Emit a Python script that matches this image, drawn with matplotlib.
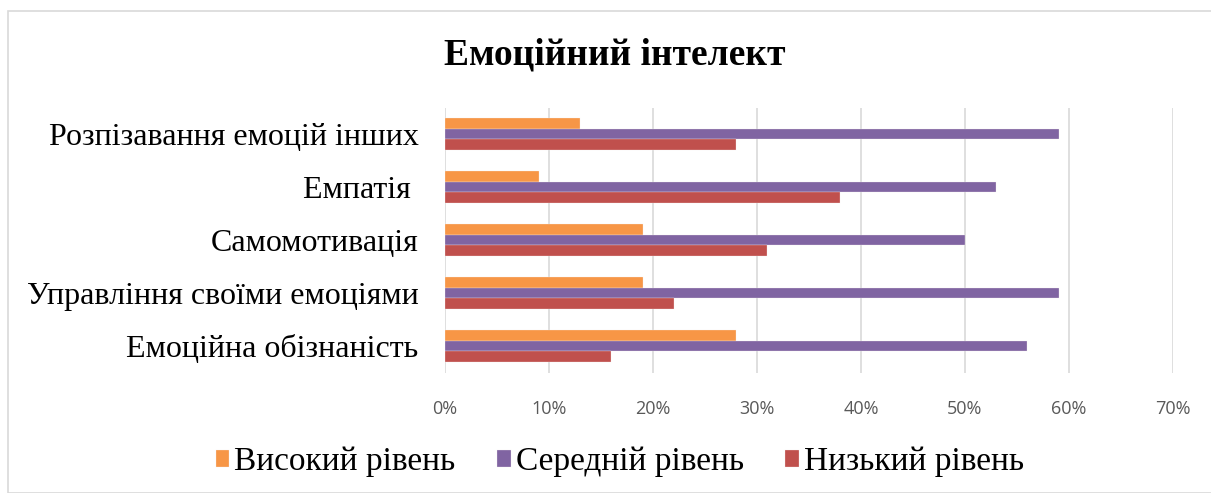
import matplotlib.pyplot as plt
import numpy as np
from matplotlib.patches import Rectangle
from matplotlib.ticker import PercentFormatter

categories = ['Емоційна обізнаність', 'Управління своїми емоціями',
              'Самомотивація', 'Емпатія ', 'Розпізавання емоцій інших']
high = [28, 19, 19, 9, 13]
mid = [56, 59, 50, 53, 59]
low = [16, 22, 31, 38, 28]
series_names = ['Високий рівень', 'Середній рівень', 'Низький рівень']
colors = ['#F79646', '#8064A2', '#C0504D']

serif = 'Liberation Serif'
sans = 'Open Sans'

fig = plt.figure(figsize=(12.11, 4.93), dpi=100)
fig.patches.append(Rectangle((8 / 1211, 0), 1, 1 - 11 / 493, transform=fig.transFigure,
                             fill=False, edgecolor='#D9D9D9', linewidth=1.2))
ax = fig.add_axes([445 / 1211, 1 - 372.5 / 493, 728 / 1211, 265 / 493])

y = np.arange(len(categories))
h = 0.2
for vals, off, c, name in zip([high, mid, low], [h, 0, -h], colors, series_names):
    ax.barh(y + off, vals, height=h, color=c, edgecolor='#f4eeee', linewidth=0.2, label=name, zorder=3)

ax.set_xlim(0, 70)
ax.set_ylim(-0.5, len(categories) - 0.5)
ax.set_xticks(np.arange(0, 71, 10))
ax.xaxis.set_major_formatter(PercentFormatter(decimals=0))
ax.set_yticks(y)
ax.set_yticklabels(categories, fontfamily=serif, fontsize=23)
ax.grid(axis='x', color='#D9D9D9', linewidth=1.2, zorder=0)
for s in ax.spines.values():
    s.set_visible(False)
ax.tick_params(length=0)
ax.tick_params(axis='x', labelsize=13, labelcolor='#595959', pad=20)
for t in ax.get_xticklabels():
    t.set_fontfamily(sans)
ax.tick_params(axis='y', pad=19)

fig.text(615 / 1211, 1 - 55 / 493, 'Емоційний інтелект', ha='center', va='center',
         fontfamily=serif, fontsize=27, fontweight='bold')

handles, labels = ax.get_legend_handles_labels()
fig.legend(handles, labels, loc='center', bbox_to_anchor=(620 / 1211, 1 - 462 / 493), ncol=3,
           frameon=False, prop={'family': serif, 'size': 24}, handlelength=0.4, handleheight=0.4,
           handletextpad=0.15, columnspacing=1.25)

fig.savefig('out.png', dpi=100)
